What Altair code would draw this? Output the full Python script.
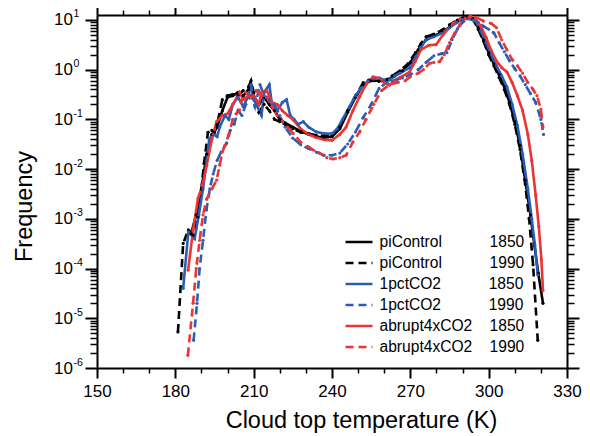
import altair as alt
import pandas as pd

# ---------------- data ----------------
names = ["piControl", "piControl", "1pctCO2", "1pctCO2", "abrupt4xCO2", "abrupt4xCO2"]
years = ["1850", "1990", "1850", "1990", "1850", "1990"]

t_pi_1850 = [186, 188, 190, 192, 194, 196, 198, 200, 202, 204, 206, 208, 209, 210, 212, 214, 216, 218, 220, 222,
             225, 228, 231, 234, 237, 240, 243, 246, 249, 252, 255, 258, 261, 264, 267, 270, 273, 276, 279, 282,
             285, 288, 290, 292, 294, 296, 298, 300, 302, 304, 306, 308, 310, 312, 314, 316, 317.5, 319, 320.8]
f_pi_1850 = [5e-4, 1.2e-3, 4e-3, 0.02, 0.05, 0.07, 0.15, 0.28, 0.3, 0.35, 0.3, 0.4, 0.5, 0.3, 0.2, 0.28, 0.2, 0.15, 0.1, 0.085,
             0.07, 0.058, 0.05, 0.045, 0.043, 0.045, 0.065, 0.14, 0.28, 0.5, 0.6, 0.6, 0.62, 0.75, 0.95, 1.4, 2.5, 4.0, 4.8, 5.6,
             7.2, 9.3, 10.5, 11.5, 10.5, 7.0, 4.0, 2.2, 1.3, 0.8, 0.45, 0.22, 0.09, 0.03, 6e-3, 1.2e-3, 3e-4, 8e-5, 2e-5]

t_pi_1990 = [181, 183, 185, 186.8, 188.7, 190, 191, 192.5, 194, 195, 196, 198, 200, 202, 204, 206, 208, 209, 210, 212,
             214, 216, 218, 220, 222, 225, 228, 231, 234, 237, 240, 243, 246, 249, 252, 254, 256, 258, 260, 263,
             266, 269, 272, 274, 276, 279, 282, 285, 288, 290, 292, 294, 296, 298, 300, 302, 304, 306, 308, 310,
             312, 314, 315.5, 317, 318.8]
f_pi_1990 = [5.3e-6, 3.2e-4, 6e-4, 4.7e-4, 1.1e-3, 4e-3, 0.013, 0.055, 0.06, 0.055, 0.08, 0.25, 0.3, 0.32, 0.3, 0.38, 0.45, 0.6, 0.35, 0.14,
             0.2, 0.15, 0.1, 0.09, 0.08, 0.065, 0.055, 0.052, 0.048, 0.047, 0.048, 0.07, 0.15, 0.3, 0.55, 0.62, 0.6, 0.58, 0.6, 0.75,
             0.95, 1.3, 2.2, 3.3, 4.6, 5.2, 6.2, 8.0, 10.0, 11.0, 11.8, 10.5, 6.5, 3.8, 2.0, 1.2, 0.7, 0.4, 0.2, 0.08,
             0.025, 5e-3, 1e-3, 1.2e-4, 3.6e-6]

t_1pct_1850 = [183, 185, 187.4, 189, 190.6, 192, 193, 194.5, 196, 197, 199, 200.5, 202, 204, 206, 208, 209, 210, 211, 213,
               214, 216, 217, 219, 221, 222.6, 224, 225.5, 227, 229, 231, 234, 237, 240, 242, 244, 246.7, 249, 251, 253.8,
               256, 258.2, 260, 262, 264, 266, 269.7, 272, 274, 276, 279, 282, 285, 288, 290, 292.5, 295, 297, 299, 301,
               303, 305, 307, 309, 311, 313, 315, 316.5, 317.7, 318.8]
f_1pct_1850 = [4e-5, 5.5e-4, 4e-4, 1.2e-3, 4e-3, 0.015, 0.04, 0.05, 0.045, 0.07, 0.12, 0.1, 0.2, 0.28, 0.18, 0.3, 0.5, 0.25, 0.2, 0.12,
               0.35, 0.5, 0.2, 0.15, 0.22, 0.25, 0.12, 0.1, 0.08, 0.09, 0.07, 0.056, 0.052, 0.052, 0.065, 0.1, 0.18, 0.3, 0.42, 0.6,
               0.65, 0.68, 0.62, 0.62, 0.75, 0.85, 1.1, 1.8, 2.8, 4.0, 4.6, 5.4, 7.0, 9.0, 10.3, 11.0, 9.5, 6.0, 3.5, 2.0,
               1.2, 0.75, 0.45, 0.2, 0.075, 0.02, 4e-3, 1e-3, 3e-4, 7.5e-5]

t_1pct_1990 = [187, 188.3, 189.3, 190.6, 191.9, 193.2, 194.5, 196, 197.5, 199.6, 201, 202.5, 204, 205.5, 207, 209, 210.5, 212.4, 214, 216,
               218, 220, 222, 225, 228, 231, 234, 237, 240, 243, 246, 249, 252, 255, 258, 261, 263, 265, 267, 270,
               273, 276, 279, 282, 284, 286, 288, 290, 292, 294, 296, 298, 300, 302, 304, 306, 308, 310, 312, 314,
               316, 318, 320, 321]
f_1pct_1990 = [3.6e-6, 2e-5, 1e-4, 3.7e-4, 1.5e-3, 4e-3, 8e-3, 0.015, 0.022, 0.033, 0.06, 0.08, 0.15, 0.12, 0.2, 0.3, 0.18, 0.5, 0.3, 0.25,
               0.2, 0.12, 0.07, 0.042, 0.031, 0.026, 0.022, 0.019, 0.019, 0.021, 0.032, 0.056, 0.11, 0.2, 0.42, 0.56, 0.6, 0.64, 0.68, 0.8,
               1.0, 1.4, 1.9, 2.1, 2.2, 4.0, 6.5, 9.0, 10.5, 10.0, 9.0, 7.5, 6.5, 5.5, 3.5, 2.3, 1.5, 1.05, 0.75, 0.5,
               0.33, 0.22, 0.1, 0.05]

t_4x_1850 = [184.9, 186.8, 188.7, 190.5, 192, 194, 195.8, 198, 200, 202, 204.6, 206, 208, 210, 212, 213, 215, 217, 219, 221,
             223, 225, 228, 231, 234, 237, 240, 243, 245.4, 248, 250.6, 253, 255.7, 258, 260, 262, 264, 266, 269.7, 272,
             274, 277, 279.9, 282.5, 286.3, 289, 292.5, 295, 297, 299, 301, 303, 305, 307, 309, 311, 313, 315, 316.5, 318,
             319.2, 320.2, 320.8]
f_4x_1850 = [9.3e-5, 6e-4, 2.6e-3, 5e-3, 0.012, 0.04, 0.09, 0.12, 0.13, 0.2, 0.35, 0.25, 0.3, 0.3, 0.2, 0.35, 0.38, 0.22, 0.2, 0.15,
             0.12, 0.1, 0.065, 0.05, 0.043, 0.039, 0.038, 0.05, 0.07, 0.15, 0.29, 0.5, 0.72, 0.68, 0.55, 0.49, 0.6, 0.7, 0.9, 1.5,
             2.5, 3.1, 3.2, 5.0, 8.5, 10.5, 11.5, 10.5, 7.5, 4.5, 2.4, 1.5, 1.1, 0.9, 0.55, 0.3, 0.15, 0.05, 0.015, 3e-3,
             7e-4, 1.5e-4, 3.6e-5]

t_4x_1990 = [184.8, 186.8, 188, 189.3, 190.6, 192, 194, 195.8, 197, 198, 199, 200.5, 202, 203.3, 204.5, 205.5, 207, 209, 211, 213,
             215, 217, 219, 221, 223, 225.2, 228, 231, 233, 235.3, 238, 240.4, 243, 245.4, 248, 250.6, 253, 256, 259, 262,
             265, 268, 270, 273, 275, 277.4, 279, 281.2, 283, 285, 287, 289, 291, 293, 295, 298, 301, 303, 305, 307,
             309, 311, 313, 315, 317, 318.5, 320, 320.8]
f_4x_1990 = [1.8e-6, 2e-5, 1e-4, 3.7e-4, 1.2e-3, 2.5e-3, 4e-3, 6e-3, 0.012, 0.022, 0.03, 0.05, 0.1, 0.13, 0.15, 0.25, 0.35, 0.28, 0.38, 0.3,
             0.28, 0.18, 0.12, 0.09, 0.07, 0.052, 0.035, 0.028, 0.024, 0.021, 0.017, 0.016, 0.017, 0.019, 0.035, 0.056, 0.1, 0.2, 0.38, 0.5,
             0.55, 0.6, 0.72, 0.85, 1.0, 1.35, 1.4, 1.45, 2.0, 3.5, 5.5, 8.0, 10.5, 12.0, 11.5, 9.5, 8.5, 7.0, 4.0, 2.5,
             1.6, 1.2, 0.85, 0.55, 0.4, 0.3, 0.16, 0.07]

temps = [t_pi_1850, t_pi_1990, t_1pct_1850, t_1pct_1990, t_4x_1850, t_4x_1990]
freqs = [f_pi_1850, f_pi_1990, f_1pct_1850, f_1pct_1990, f_4x_1850, f_4x_1990]

x_ticks = [150, 180, 210, 240, 270, 300, 330]
y_exponents = [-6, -5, -4, -3, -2, -1, 0, 1]

# ---------------- styles ----------------
colors = ["#000000", "#000000", "#2a5eb6", "#2a5eb6", "#ee3333", "#ee3333"]
dashes = [[1, 0], [8, 5], [1, 0], [8, 5], [1, 0], [8, 5]]
FONT = "Liberation Sans"

# legend labels: name and year in two aligned columns (Arial-metric widths, em)
AW = {"p": .556, "i": .222, "C": .722, "o": .556, "n": .556, "t": .278, "r": .333, "l": .222,
      "1": .556, "c": .5, "O": .778, "2": .556, "a": .556, "b": .556, "u": .556, "4": .556, "x": .5}
NBSP = "\u00a0"


def legend_label(name, year, col_em=7.0):
    w = sum(AW.get(ch, .556) for ch in name)
    n = max(1, round((col_em - w) / 0.278))
    return name + NBSP * n + year


labels = [legend_label(n, y) for n, y in zip(names, years)]

rows = []
for lab, ts, fs in zip(labels, temps, freqs):
    assert len(ts) == len(fs), lab
    for t, f in zip(ts, fs):
        rows.append({"T": t, "F": f, "series": lab})
df = pd.DataFrame(rows)

y_major = [10.0 ** e for e in y_exponents]
y_minor = [m * 10.0 ** e for e in y_exponents for m in range(2, 10) if m * 10.0 ** e < 12.6]
x_minor = [v for v in range(150, 331, 10) if v not in x_ticks]

xs = alt.Scale(domain=[150, 330], nice=False, zero=False)
ys = alt.Scale(type="log", domain=[1e-6, 12.6], nice=False)

base = alt.Chart(df)

leg = alt.Legend(
    orient="none", legendX=254, legendY=219, title=None,
    symbolType="M-2,0H2", symbolSize=182, symbolStrokeWidth=2.5,
    labelFont=FONT, labelFontSize=15.6, labelColor="black", labelOffset=12.5,
    rowPadding=4, padding=0, labelLimit=0,
)

lines = base.mark_line(strokeWidth=2.6).encode(
    x=alt.X("T:Q", scale=xs, axis=alt.Axis(
        orient="bottom", values=x_ticks, tickSize=10, tickWidth=2, domain=True, domainWidth=2,
        labelFont=FONT, labelFontSize=17, labelPadding=5, labelFlush=False, format="d",
        title="Cloud top temperature (K)", titleFont=FONT, titleFontSize=23.5, titleFontWeight="normal",
        titlePadding=9, titleX=264)),
    y=alt.Y("F:Q", scale=ys, axis=alt.Axis(
        orient="left", values=y_major, tickSize=12, tickWidth=2, domain=True, domainWidth=2,
        labelFont=FONT, labelFontSize=17, labelPadding=12.6, labelExpr="'10'", labelOverlap=False,
        title="Frequency", titleFont=FONT, titleFontSize=23.5, titleFontWeight="normal",
        titlePadding=17, titleY=191)),
    color=alt.Color("series:N", scale=alt.Scale(domain=labels, range=colors), legend=leg),
    strokeDash=alt.StrokeDash("series:N", scale=alt.Scale(domain=labels, range=dashes), legend=leg),
)

points = base.mark_circle(size=10, opacity=1).encode(
    x=alt.X("T:Q", scale=xs, axis=alt.Axis(
        orient="bottom", values=x_minor, tickSize=5, tickWidth=1.5, domain=False, labels=False, title=None)),
    y=alt.Y("F:Q", scale=ys, axis=alt.Axis(
        orient="left", values=y_minor, tickSize=7, tickWidth=1.5, domain=False, labels=False, title=None)),
    color=alt.Color("series:N", scale=alt.Scale(domain=labels, range=colors), legend=None),
)

frame_major = base.mark_line(opacity=0).encode(
    x=alt.X("T:Q", scale=xs, axis=alt.Axis(
        orient="top", values=x_ticks, tickSize=10, tickWidth=2, domain=True, domainWidth=2, labels=False, title=None)),
    y=alt.Y("F:Q", scale=ys, axis=alt.Axis(
        orient="right", values=y_major, tickSize=12, tickWidth=2, domain=True, domainWidth=2, labels=False, title=None)),
)

frame_minor = base.mark_line(opacity=0).encode(
    x=alt.X("T:Q", scale=xs, axis=alt.Axis(
        orient="top", values=x_minor, tickSize=5, tickWidth=1.5, domain=False, labels=False, title=None)),
    y=alt.Y("F:Q", scale=ys, axis=alt.Axis(
        orient="right", values=y_minor, tickSize=7, tickWidth=1.5, domain=False, labels=False, title=None)),
)

exponents = base.mark_line(opacity=0).encode(
    x=alt.X("T:Q", scale=xs, axis=None),
    y=alt.Y("F:Q", scale=ys, axis=alt.Axis(
        orient="left", values=y_major, tickSize=12, tickOpacity=0, domain=False,
        labelExpr="'' + round(log(datum.value) / LN10)", labelFont=FONT, labelFontSize=10.5,
        labelAlign="left", labelPadding=12, labelOffset=-6, labelOverlap=False, title=None)),
)

chart = alt.layer(lines, points, frame_major, frame_minor, exponents).resolve_axis(
    x="independent", y="independent"
).properties(
    width=470, height=353,
    autosize=alt.AutoSizeParams(type="none"),
    padding={"left": 89, "top": 7, "right": 15, "bottom": 68},
).configure_view(stroke=None).configure_axis(
    grid=False, domainColor="black", tickColor="black", labelColor="black", titleColor="black"
)

chart.save("out.html", embed_options={"renderer": "svg", "actions": False})
